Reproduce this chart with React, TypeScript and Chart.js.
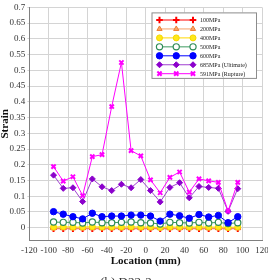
import React, { useEffect, useRef } from 'react';
import { Chart, registerables } from 'chart.js';
import { drawPoint } from 'chart.js/helpers';

Chart.register(...registerables);

// Gauge locations along the bar (mm)
const locations = [-95, -85, -75, -65, -55, -45, -35, -25, -15, -5, 5, 15, 25, 35, 45, 55, 65, 75, 85, 95];

// Strain readings per stress level
const strain100 = [-0.003, -0.003, -0.003, -0.003, -0.003, -0.003, -0.003, -0.003, -0.003, -0.003, -0.003, -0.003, -0.003, -0.003, -0.003, -0.003, -0.003, -0.003, -0.003, -0.003];
const strain200 = [-0.002, -0.002, -0.002, -0.002, -0.002, -0.002, -0.002, -0.002, -0.002, -0.002, -0.002, -0.002, -0.002, -0.002, -0.002, -0.002, -0.002, -0.002, -0.002, -0.002];
const strain400 = [0.002, 0.003, 0.002, 0.002, 0.003, 0.002, 0.002, 0.002, 0.003, 0.002, 0.002, 0.001, 0.002, 0.002, 0.002, 0.002, 0.002, 0.002, 0.001, 0.002];
const strain500 = [0.018, 0.017, 0.017, 0.015, 0.018, 0.016, 0.016, 0.017, 0.018, 0.016, 0.015, 0.012, 0.017, 0.016, 0.015, 0.017, 0.015, 0.017, 0.013, 0.016];
const strain600 = [0.051, 0.043, 0.035, 0.028, 0.046, 0.035, 0.037, 0.037, 0.040, 0.040, 0.037, 0.021, 0.043, 0.038, 0.030, 0.042, 0.034, 0.039, 0.016, 0.035];
const strain685 = [0.167, 0.125, 0.127, 0.083, 0.155, 0.130, 0.118, 0.138, 0.127, 0.153, 0.118, 0.082, 0.128, 0.143, 0.095, 0.131, 0.128, 0.125, 0.052, 0.124];
const strain591 = [0.194, 0.148, 0.162, 0.102, 0.226, 0.232, 0.385, 0.525, 0.245, 0.228, 0.152, 0.111, 0.160, 0.177, 0.113, 0.155, 0.149, 0.144, 0.053, 0.144];

const seriesLabels = ['100MPa', '200MPa', '400MPa', '500MPa', '600MPa', '685MPa (Ultimate)', '591MPa (Rupture)'];

const xTicks = [-120, -100, -80, -60, -40, -20, 0, 20, 40, 60, 80, 100, 120];
const yTicks = [0, 0.05, 0.1, 0.15, 0.2, 0.25, 0.3, 0.35, 0.4, 0.45, 0.5, 0.55, 0.6, 0.65, 0.7];

const xTitle = 'Location (mm)';
const yTitle = 'Strain';
const caption = '(b) D22-2';

const SERIF = "'Liberation Serif', 'Times New Roman', serif";

const toPoints = (values: number[]) => locations.map((x, i) => ({ x, y: values[i] }));

// Boxed legend with a short line and three markers per series
const boxLegend = {
  id: 'boxLegend',
  afterDraw(chart: any) {
    const { ctx, chartArea } = chart;
    const right = chartArea.right - 5;
    const left = right - 105.5;
    const top = chartArea.top + 5;
    const height = 66.5;
    ctx.save();
    ctx.fillStyle = '#ffffff';
    ctx.fillRect(left, top, right - left, height);
    ctx.strokeStyle = '#8c8c8c';
    ctx.lineWidth = 1;
    ctx.strokeRect(left + 0.5, top + 0.5, right - left - 1, height - 1);

    chart.data.datasets.forEach((ds: any, i: number) => {
      const y = top + 7.6 + i * 8.95;
      const x0 = left + 8;
      const x1 = left + 41.5;
      ctx.strokeStyle = ds.borderColor;
      ctx.lineWidth = ds.borderWidth;
      ctx.beginPath();
      ctx.moveTo(x0, y);
      ctx.lineTo(x1, y);
      ctx.stroke();
      [x0, (x0 + x1) / 2, x1].forEach((mx) => {
        ctx.fillStyle = ds.pointBackgroundColor;
        ctx.strokeStyle = ds.pointBorderColor;
        ctx.lineWidth = ds.pointBorderWidth;
        drawPoint(ctx, { pointStyle: ds.pointStyle, radius: ds.pointRadius, borderWidth: ds.pointBorderWidth, rotation: 0 }, mx, y);
      });
      ctx.fillStyle = '#222222';
      ctx.font = `6px ${SERIF}`;
      ctx.textAlign = 'left';
      ctx.textBaseline = 'middle';
      ctx.fillText(ds.label, left + 48.5, y + 0.3);
    });
    ctx.restore();
  },
};

// Figure caption below the axis title
const captionPlugin = {
  id: 'caption',
  afterDraw(chart: any) {
    const { ctx } = chart;
    ctx.save();
    ctx.fillStyle = '#333333';
    ctx.font = `13px ${SERIF}`;
    ctx.textAlign = 'center';
    ctx.textBaseline = 'top';
    ctx.fillText(caption, 126, 276);
    ctx.restore();
  },
};

export default function App() {
  const canvasRef = useRef<HTMLCanvasElement | null>(null);

  useEffect(() => {
    document.body.style.margin = '0';
    const canvas = canvasRef.current;
    if (!canvas) return;

    const series = [
      { data: strain100, line: '#ff0000', bg: '#ff0000', border: '#ff0000', style: 'cross', r: 3.3, bw: 2 },
      { data: strain200, line: '#f4a06a', bg: '#f7a66e', border: '#ed7d31', style: 'triangle', r: 3, bw: 1 },
      { data: strain400, line: '#ffd800', bg: '#ffe81a', border: '#f5d800', style: 'circle', r: 3, bw: 1 },
      { data: strain500, line: '#3c9a5f', bg: '#ffffff', border: '#2e8b57', style: 'circle', r: 3.1, bw: 1.2 },
      { data: strain600, line: '#0000ff', bg: '#0000ff', border: '#0000ff', style: 'circle', r: 3.2, bw: 1 },
      { data: strain685, line: '#a040d0', bg: '#8b00cc', border: '#8b00cc', style: 'rectRot', r: 3, bw: 1 },
      { data: strain591, line: '#ff00ff', bg: '#ff00ff', border: '#ff00ff', style: 'crossRot', r: 3, bw: 2 },
    ];

    const chart = new Chart(canvas, {
      type: 'line',
      data: {
        datasets: series.map((s, i) => ({
          label: seriesLabels[i],
          data: toPoints(s.data),
          borderColor: s.line,
          backgroundColor: s.bg,
          borderWidth: 1,
          pointStyle: s.style,
          pointRadius: s.r,
          pointBackgroundColor: s.bg,
          pointBorderColor: s.border,
          pointBorderWidth: s.bw,
          tension: 0,
          fill: false,
          order: series.length - 1 - i,
        })),
      } as any,
      options: {
        animation: false,
        responsive: false,
        devicePixelRatio: 1,
        layout: { padding: { top: 7, right: 6, left: 0, bottom: 0 } },
        plugins: {
          legend: { display: false },
          tooltip: { enabled: false },
          title: { display: false },
        },
        scales: {
          x: {
            type: 'linear',
            min: -120,
            max: 120,
            afterBuildTicks: (scale: any) => {
              scale.ticks = xTicks.map((value) => ({ value }));
            },
            afterFit: (scale: any) => {
              scale.height = 280 - 240.3;
              scale.paddingRight = 0;
            },
            grid: { color: '#d4d4d4', lineWidth: 1, drawTicks: false },
            border: { color: '#808080', width: 1 },
            ticks: {
              padding: 5,
              color: '#333333',
              font: { family: SERIF, size: 9 },
              maxRotation: 0,
              autoSkip: false,
              callback: (v: any) => String(v),
            },
            title: {
              display: true,
              text: xTitle,
              color: '#111111',
              font: { family: SERIF, size: 11, weight: 'bold' },
              padding: { top: 0, bottom: 12.4 },
            },
          },
          y: {
            type: 'linear',
            min: -0.04,
            max: 0.7,
            afterBuildTicks: (scale: any) => {
              scale.ticks = yTicks.map((value) => ({ value }));
            },
            afterFit: (scale: any) => {
              scale.width = 29.3;
            },
            grid: { color: '#d4d4d4', lineWidth: 1, drawTicks: true, tickLength: 2 },
            border: { color: '#808080', width: 1 },
            ticks: {
              padding: 2,
              color: '#333333',
              font: { family: SERIF, size: 9 },
              autoSkip: false,
              callback: (v: any) => String(Number(Number(v).toFixed(2))),
            },
            title: {
              display: true,
              text: yTitle,
              color: '#111111',
              font: { family: SERIF, size: 11, weight: 'bold', lineHeight: 1 },
              padding: 0,
            },
          },
        },
      } as any,
      plugins: [boxLegend, captionPlugin],
    });

    return () => chart.destroy();
  }, []);

  return (
    <div style={{ position: 'absolute', left: 0, top: 0, width: 268, height: 280, background: '#ffffff' }}>
      <canvas ref={canvasRef} width={268} height={280} />
    </div>
  );
}
